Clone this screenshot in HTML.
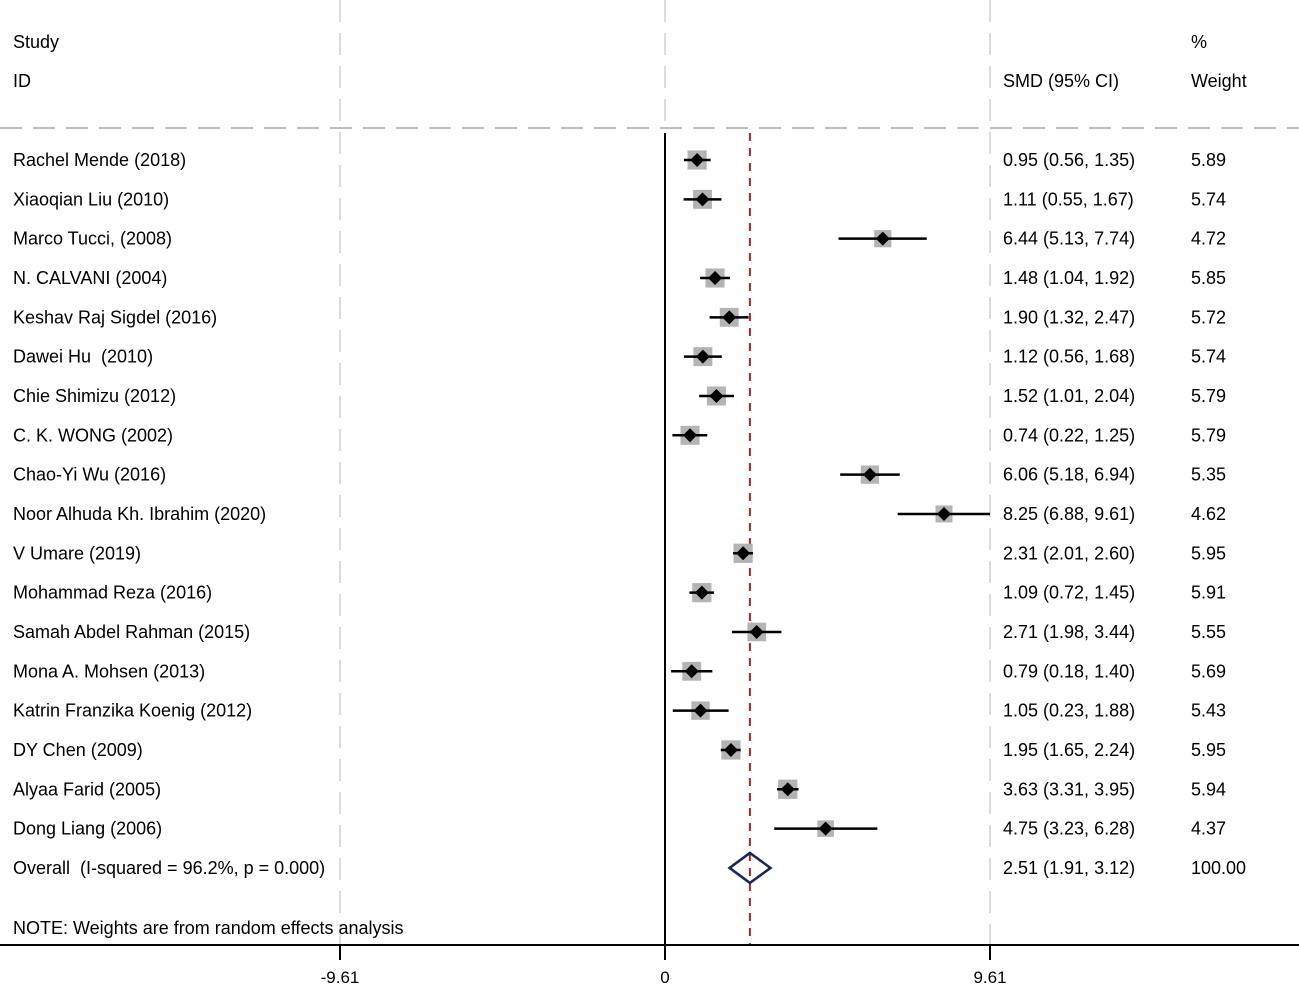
<!DOCTYPE html>
<html><head><meta charset="utf-8"><style>
html,body{margin:0;padding:0;background:#fff;}
svg{display:block;font-family:"Liberation Sans",Arial,sans-serif;}
text{white-space:pre;}
</style></head><body>
<svg id="chart" width="1299" height="985" viewBox="0 0 1299 985">
<g id="grid"></g>
<text x="13" y="48" font-size="18">Study</text>
<text x="13" y="87" font-size="18">ID</text>
<text x="1003" y="87" font-size="18">SMD (95% CI)</text>
<text x="1191" y="48" font-size="18">%</text>
<text x="1191" y="87" font-size="18">Weight</text>
<g id="rows"></g>
<text x="13" y="934" font-size="18">NOTE: Weights are from random effects analysis</text>
</svg>
<script>
const studies=["Rachel Mende (2018)","Xiaoqian Liu (2010)","Marco Tucci, (2008)","N. CALVANI (2004)","Keshav Raj Sigdel (2016)","Dawei Hu  (2010)","Chie Shimizu (2012)","C. K. WONG (2002)","Chao-Yi Wu (2016)","Noor Alhuda Kh. Ibrahim (2020)","V Umare (2019)","Mohammad Reza (2016)","Samah Abdel Rahman (2015)","Mona A. Mohsen (2013)","Katrin Franzika Koenig (2012)","DY Chen (2009)","Alyaa Farid (2005)","Dong Liang (2006)"];
const smd=[0.95,1.11,6.44,1.48,1.90,1.12,1.52,0.74,6.06,8.25,2.31,1.09,2.71,0.79,1.05,1.95,3.63,4.75];
const lower=[0.56,0.55,5.13,1.04,1.32,0.56,1.01,0.22,5.18,6.88,2.01,0.72,1.98,0.18,0.23,1.65,3.31,3.23];
const upper=[1.35,1.67,7.74,1.92,2.47,1.68,2.04,1.25,6.94,9.61,2.60,1.45,3.44,1.40,1.88,2.24,3.95,6.28];
const weights=[5.89,5.74,4.72,5.85,5.72,5.74,5.79,5.79,5.35,4.62,5.95,5.91,5.55,5.69,5.43,5.95,5.94,4.37];
const overall={est:2.51,lo:1.91,hi:3.12,label:"Overall  (I-squared = 96.2%, p = 0.000)",weight:"100.00"};
const ticks=[-9.61,0,9.61];

const NS="http://www.w3.org/2000/svg";
const X=v=>665+v*(325/9.61);
const Y=i=>160+i*39.33;
function mk(tag,attrs,parent,txt){const e=document.createElementNS(NS,tag);for(const k in attrs)e.setAttribute(k,attrs[k]);if(txt!==undefined)e.textContent=txt;parent.appendChild(e);return e;}
const grid=document.getElementById('grid'),rows=document.getElementById('rows');
ticks.forEach(t=>{
  const g=mk('line',{x1:X(t),x2:X(t),y1:0,y2:t===0?128:945,stroke:'#dcdcdc','stroke-width':2,'stroke-dasharray':'22 11'},grid);
  
  
});
let hl=mk('line',{x1:0,x2:1299,y1:128,y2:128,stroke:'#bdbdbd','stroke-width':2,'stroke-dasharray':'22 11'},grid);


let zl=mk('line',{x1:X(0),x2:X(0),y1:133,y2:960,stroke:'#000','stroke-width':2},grid);


let rl=mk('line',{x1:X(overall.est),x2:X(overall.est),y1:133,y2:945,stroke:'#9b2a2a','stroke-width':2,'stroke-dasharray':'8 7'},grid);


let ax=mk('line',{x1:0,x2:1299,y1:945,y2:945,stroke:'#000','stroke-width':2},grid);


ticks.forEach(t=>{
  const tk=mk('line',{x1:X(t),x2:X(t),y1:945,y2:960,stroke:'#000','stroke-width':2},grid);
  
  
  const tl=mk('text',{x:X(t),y:983,'font-size':17,'text-anchor':'middle'},grid,String(t));
  
  
});
studies.forEach((s,i)=>{
  const y=Y(i);
  const g=mk('g',{},rows);
  
  
  const lab=mk('text',{x:13,y:y+6,'font-size':18},g,s);
  
  
  const side=7.9*Math.sqrt(weights[i]);
  const sq=mk('rect',{x:X(smd[i])-side/2,y:y-side/2,width:side,height:side,fill:'#b4b4b4'},g);
  
  
  const ci=mk('line',{x1:X(lower[i]),x2:X(upper[i]),y1:y,y2:y,stroke:'#000','stroke-width':2.5},g);
  
  
  const cx=X(smd[i]);
  const pt=mk('polygon',{points:`${cx-7},${y} ${cx},${y-7} ${cx+7},${y} ${cx},${y+7}`,fill:'#000'},g);
  
  
  const v=mk('text',{x:1003,y:y+6,'font-size':18},g,`${smd[i].toFixed(2)} (${lower[i].toFixed(2)}, ${upper[i].toFixed(2)})`);
  
  
  const w=mk('text',{x:1191,y:y+6,'font-size':18},g,weights[i].toFixed(2));
  
  
});
const oy=Y(18);
const og=mk('g',{},rows);


const ol=mk('text',{x:13,y:oy+6,'font-size':18},og,overall.label);


const dm=mk('polygon',{points:`${X(overall.lo)},${oy} ${X(overall.est)},${oy-15} ${X(overall.hi)},${oy} ${X(overall.est)},${oy+15}`,fill:'none',stroke:'#1a2360','stroke-width':2.5},og);


const ov=mk('text',{x:1003,y:oy+6,'font-size':18},og,`${overall.est.toFixed(2)} (${overall.lo.toFixed(2)}, ${overall.hi.toFixed(2)})`);


const ow=mk('text',{x:1191,y:oy+6,'font-size':18},og,overall.weight);


</script>
</body></html>
